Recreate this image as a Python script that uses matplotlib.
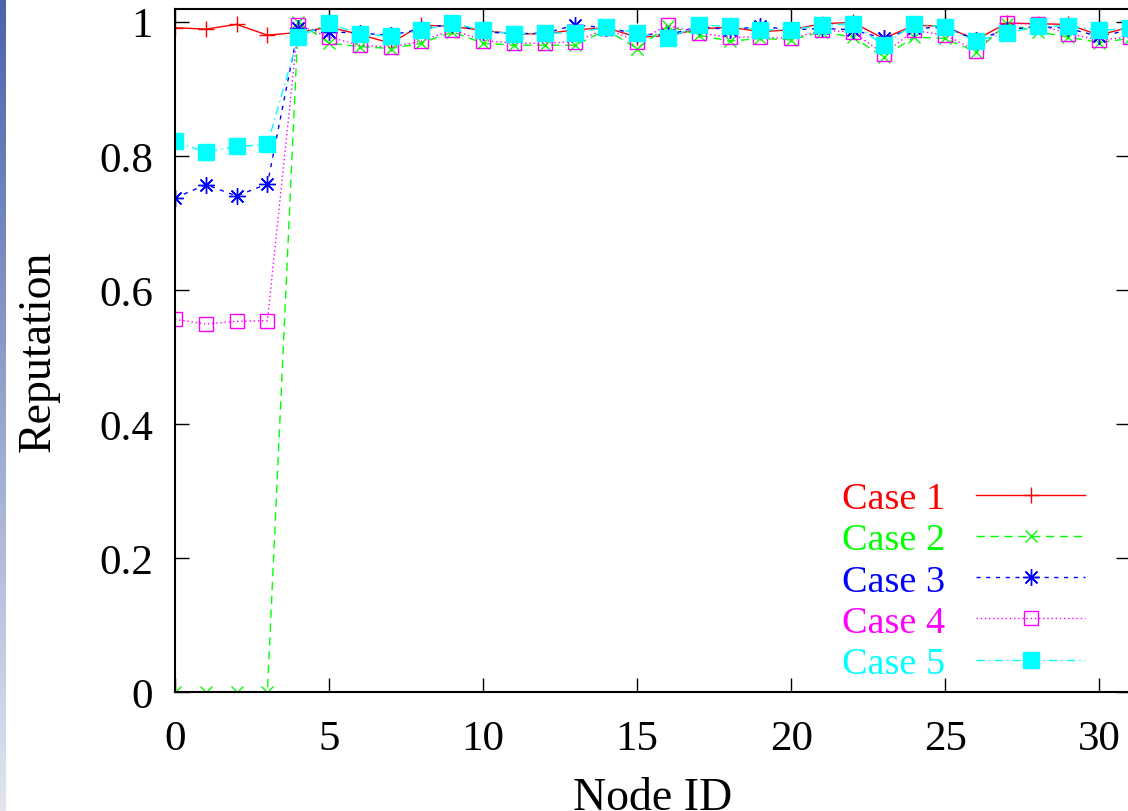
import numpy as np
import matplotlib
matplotlib.use('Agg')
import matplotlib.pyplot as plt
from matplotlib.ticker import FormatStrFormatter

# Datos
node_id = list(range(32))
case1 = [0.991, 0.989, 0.996, 0.980, 0.984, 0.992, 0.981, 0.968, 0.995, 0.993,
         0.987, 0.982, 0.982, 0.988, 0.991, 0.977, 0.979, 0.989, 0.992, 0.985,
         0.988, 0.997, 0.999, 0.975, 0.995, 0.993, 0.973, 0.998, 0.997, 0.996,
         0.980, 0.992]
case2 = [0.0, 0.0, 0.0, 0.0, 1.0, 0.968, 0.963, 0.960, 0.968, 0.985,
         0.968, 0.965, 0.965, 0.965, 0.988, 0.960, 0.994, 0.980, 0.971, 0.975,
         0.973, 0.985, 0.977, 0.948, 0.977, 0.975, 0.955, 0.997, 0.985, 0.977,
         0.969, 0.975]
case3 = [0.737, 0.757, 0.740, 0.758, 0.990, 0.985, 0.983, 0.980, 0.989, 0.997,
         0.985, 0.982, 0.983, 0.995, 0.991, 0.982, 0.980, 0.993, 0.988, 0.993,
         0.988, 0.990, 0.988, 0.975, 0.990, 0.992, 0.973, 0.988, 0.993, 0.990,
         0.978, 0.988]
case4 = [0.556, 0.549, 0.553, 0.554, 0.995, 0.977, 0.965, 0.962, 0.971, 0.988,
         0.972, 0.968, 0.968, 0.970, 0.990, 0.970, 0.995, 0.983, 0.977, 0.977,
         0.975, 0.987, 0.985, 0.952, 0.987, 0.980, 0.957, 0.998, 0.996, 0.982,
         0.973, 0.977]
case5 = [0.822, 0.805, 0.814, 0.817, 0.977, 0.998, 0.981, 0.979, 0.987, 0.998,
         0.987, 0.982, 0.983, 0.983, 0.992, 0.983, 0.975, 0.995, 0.993, 0.988,
         0.988, 0.995, 0.997, 0.965, 0.997, 0.992, 0.971, 0.983, 0.993, 0.994,
         0.987, 0.990]
labels = ['Case 1', 'Case 2', 'Case 3', 'Case 4', 'Case 5']

plt.rcParams['font.family'] = ['Liberation Serif', 'DejaVu Serif']
fs_tick = 31
fs_label = 33
fs_leg = 27.5

fig = plt.figure(figsize=(11.28, 8.12), dpi=100)

# franja azul del fondo de la diapositiva
strip = fig.add_axes([0, 0, 6 / 1128, 1])
grad = np.linspace(0, 1, 256).reshape(-1, 1)
cmap = matplotlib.colors.LinearSegmentedColormap.from_list('s', ['#4a63ab', '#e2e5f0'])
strip.imshow(grad, aspect='auto', cmap=cmap)
strip.axis('off')

ax = fig.add_axes([175 / 1128, 119 / 812, 955 / 1128, 683 / 812])

ax.plot(node_id, case1, color='#ff0000', lw=1.0, ls='-', marker='+', ms=11, mew=1.0, label=labels[0])
ax.plot(node_id, case2, color='#00ff00', lw=1.0, ls=(0, (6, 4)), marker='x', ms=8, mew=1.0, label=labels[1])
ax.plot(node_id, case3, color='#0000ff', lw=1.0, ls=(0, (3, 4)), marker=(8, 2, 0), ms=12, mew=1.0, label=labels[2])
ax.plot(node_id, case4, color='#ff00ff', lw=1.0, ls=(0, (1, 2)), marker='s', ms=10, mew=1.0,
        mfc='none', label=labels[3])
ax.plot(node_id, case5, color='#00ffff', lw=1.0, ls=(0, (6, 3, 1, 3)), marker='s', ms=11, mew=1.0,
        label=labels[4])

ax.set_xlim(0, 31)
ax.set_ylim(0, 1.019)
ax.set_xticks(range(0, 31, 5))
ax.set_yticks([0, 0.2, 0.4, 0.6, 0.8, 1.0])
ax.yaxis.set_major_formatter(FormatStrFormatter('%g'))
ax.tick_params(direction='in', length=10, width=1, top=True, right=True, labelsize=fs_tick)
ax.tick_params(axis='y', pad=16)
ax.tick_params(axis='x', pad=20)
for s in ax.spines.values():
    s.set_linewidth(1.5)
ax.set_xlabel('Node ID', fontsize=fs_label, labelpad=13)
ax.set_ylabel('Reputation', fontsize=fs_label, labelpad=28)

leg = ax.legend(loc='lower right', bbox_to_anchor=(1085 / 1128, 130 / 812),
                bbox_transform=fig.transFigure, borderaxespad=0, borderpad=0,
                frameon=False, fontsize=fs_leg, markerfirst=False, handlelength=2.85,
                labelcolor='linecolor', labelspacing=0.17, handletextpad=0.8, numpoints=1)

fig.savefig('out.png', dpi=100)
